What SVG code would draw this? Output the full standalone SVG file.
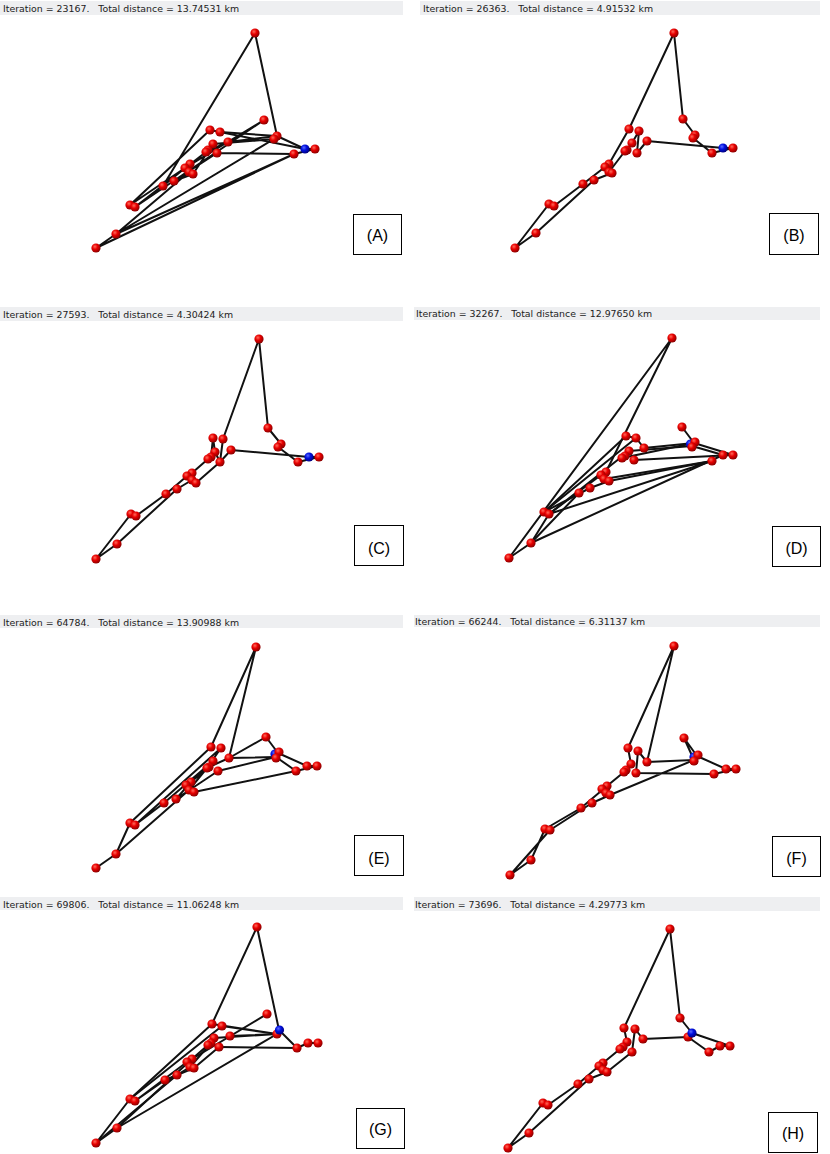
<svg xmlns="http://www.w3.org/2000/svg" width="830" height="1154" viewBox="0 0 830 1154">
<defs>
<radialGradient id="gr" cx="0.38" cy="0.35" r="0.65">
<stop offset="0" stop-color="#ff6a5a"/><stop offset="0.45" stop-color="#e80000"/><stop offset="1" stop-color="#8c0000"/>
</radialGradient>
<radialGradient id="gb" cx="0.38" cy="0.35" r="0.65">
<stop offset="0" stop-color="#5a6aff"/><stop offset="0.45" stop-color="#0010e0"/><stop offset="1" stop-color="#000080"/>
</radialGradient>
<style>
.hb{fill:#eeeff1}
.ht{font-family:"DejaVu Sans",Verdana,sans-serif;font-size:9.4px;fill:#222;white-space:pre}
.tour{fill:none;stroke:#111;stroke-width:2;stroke-linejoin:round;stroke-linecap:round}
.r circle{fill:url(#gr)}
.b{fill:url(#gb)}
.lb{fill:#fff;stroke:#000;stroke-width:1}
.lt{font-family:"Liberation Sans",Arial,sans-serif;font-size:16px;fill:#000;text-anchor:middle}
</style>
</defs>
<rect width="830" height="1154" fill="#fff"/>

<!-- Panel A -->
<g id="panelA">
<rect class="hb" x="0" y="1" width="403" height="14"/>
<text class="ht" x="3" y="11.5" xml:space="preserve">Iteration = 23167.   Total distance = 13.74531 km</text>
<g id="edgesA"><polyline class="tour" points="255,33 277,136 228,142 206,152 135,207 264,120 185,168 130,205 210,130 220,132 305,149 315,149 294,154 96,248 116,234 274,139 213,144 193,174 174,181 217,153 294,154 116,234 189,172 190,164 163,186 255,33"/>
<polyline class="tour" points="220,132 277,136 305,149"/></g>
<g id="dotsA" class="r">
<circle cx="255" cy="33" r="4.6"/><circle cx="264" cy="120" r="4.6"/><circle cx="210" cy="130" r="4.6"/><circle cx="220" cy="132" r="4.6"/><circle cx="277" cy="136" r="4.6"/><circle cx="274" cy="139" r="4.6"/><circle cx="228" cy="142" r="4.6"/><circle cx="213" cy="144" r="4.6"/><circle cx="208" cy="150" r="4.6"/><circle cx="206" cy="152" r="4.6"/><circle cx="217" cy="153" r="4.6"/><circle cx="315" cy="149" r="4.6"/><circle cx="294" cy="154" r="4.6"/><circle cx="190" cy="164" r="4.6"/><circle cx="185" cy="168" r="4.6"/><circle cx="189" cy="172" r="4.6"/><circle cx="193" cy="174" r="4.6"/><circle cx="174" cy="181" r="4.6"/><circle cx="163" cy="186" r="4.6"/><circle cx="130" cy="205" r="4.6"/><circle cx="135" cy="207" r="4.6"/><circle cx="116" cy="234" r="4.6"/><circle cx="96" cy="248" r="4.6"/>
</g>
<circle class="b" cx="305" cy="149" r="4.6"/>
<rect class="lb" x="353.5" y="214.5" width="48" height="40"/>
<text class="lt" x="377.5" y="241">(A)</text>
</g>

<!-- Panel B -->
<g id="panelB">
<rect class="hb" x="420" y="1" width="400" height="14"/>
<text class="ht" x="423" y="11.5" xml:space="preserve">Iteration = 26363.   Total distance = 4.91532 km</text>
<g id="edgesB"><polyline class="tour" points="674,33 683,119 695,135 693,138 712,153 733,148 723,148 647,141 637,153 639,131 632,143 627,150 625,151 609,172 612,173 594,180 536,233 515,248 549,204 554,206 583,184 605,167 609,164 629,129 674,33"/></g>
<g id="dotsB" class="r">
<circle cx="674" cy="33" r="4.6"/><circle cx="683" cy="119" r="4.6"/><circle cx="629" cy="129" r="4.6"/><circle cx="639" cy="131" r="4.6"/><circle cx="647" cy="141" r="4.6"/><circle cx="632" cy="143" r="4.6"/><circle cx="627" cy="150" r="4.6"/><circle cx="625" cy="151" r="4.6"/><circle cx="637" cy="153" r="4.6"/><circle cx="695" cy="135" r="4.6"/><circle cx="693" cy="138" r="4.6"/><circle cx="733" cy="148" r="4.6"/><circle cx="712" cy="153" r="4.6"/><circle cx="609" cy="164" r="4.6"/><circle cx="605" cy="167" r="4.6"/><circle cx="609" cy="172" r="4.6"/><circle cx="612" cy="173" r="4.6"/><circle cx="594" cy="180" r="4.6"/><circle cx="583" cy="184" r="4.6"/><circle cx="549" cy="204" r="4.6"/><circle cx="554" cy="206" r="4.6"/><circle cx="536" cy="233" r="4.6"/><circle cx="515" cy="248" r="4.6"/>
</g>
<circle class="b" cx="723" cy="148" r="4.6"/>
<rect class="lb" x="769.5" y="213.5" width="49" height="41"/>
<text class="lt" x="794" y="241">(B)</text>
</g>

<!-- Panel C -->
<g id="panelC">
<rect class="hb" x="0" y="307" width="403" height="14"/>
<text class="ht" x="3" y="317.5" xml:space="preserve">Iteration = 27593.   Total distance = 4.30424 km</text>
<g id="edgesC"><polyline class="tour" points="259,339 268,428 281,444 278,447 298,462 319,457 309,457 231,450 220,462 196,483 192,480 177,489 117,544 96,559 131,514 136,516 166,494 187,476 192,473 208,459 211,457 213,438 215,452 220,462 223,439 259,339"/></g>
<g id="dotsC" class="r">
<circle cx="259" cy="339" r="4.6"/><circle cx="268" cy="428" r="4.6"/><circle cx="213" cy="438" r="4.6"/><circle cx="223" cy="439" r="4.6"/><circle cx="231" cy="450" r="4.6"/><circle cx="215" cy="452" r="4.6"/><circle cx="211" cy="457" r="4.6"/><circle cx="208" cy="459" r="4.6"/><circle cx="220" cy="462" r="4.6"/><circle cx="281" cy="444" r="4.6"/><circle cx="278" cy="447" r="4.6"/><circle cx="319" cy="457" r="4.6"/><circle cx="298" cy="462" r="4.6"/><circle cx="192" cy="473" r="4.6"/><circle cx="187" cy="476" r="4.6"/><circle cx="192" cy="480" r="4.6"/><circle cx="196" cy="483" r="4.6"/><circle cx="177" cy="489" r="4.6"/><circle cx="166" cy="494" r="4.6"/><circle cx="131" cy="514" r="4.6"/><circle cx="136" cy="516" r="4.6"/><circle cx="117" cy="544" r="4.6"/><circle cx="96" cy="559" r="4.6"/>
</g>
<circle class="b" cx="309" cy="457" r="4.6"/>
<rect class="lb" x="354.5" y="525.5" width="49" height="40"/>
<text class="lt" x="379" y="554">(C)</text>
</g>

<!-- Panel D -->
<g id="panelD">
<rect class="hb" x="414" y="307" width="406" height="13"/>
<text class="ht" x="416" y="317" xml:space="preserve">Iteration = 32267.   Total distance = 12.97650 km</text>
<g id="edgesD">
<polyline class="tour" points="509,558 672,338 606,472"/>
<polyline class="tour" points="544,512 626,436 636,438 644,448 694,443 682,427"/>
<polyline class="tour" points="694,443 733,455 723,455 692,446 629,451 549,514 712,461 609,481 590,488 544,512"/>
<polyline class="tour" points="634,460 733,455"/>
<polyline class="tour" points="509,558 531,543 549,514"/>
<polyline class="tour" points="531,543 723,455"/>
<polyline class="tour" points="622,458 694,443"/>
<polyline class="tour" points="604,479 712,461"/>
<polyline class="tour" points="579,493 531,543"/>
<polyline class="tour" points="636,438 544,512"/>
<polyline class="tour" points="601,475 549,514"/>
</g>
<circle class="b" cx="690.5" cy="444" r="4.6"/>
<g id="dotsD" class="r">
<circle cx="672" cy="338" r="4.6"/><circle cx="682" cy="427" r="4.6"/><circle cx="626" cy="436" r="4.6"/><circle cx="636" cy="438" r="4.6"/><circle cx="644" cy="448" r="4.6"/><circle cx="629" cy="451" r="4.6"/><circle cx="625" cy="456" r="4.6"/><circle cx="622" cy="458" r="4.6"/><circle cx="634" cy="460" r="4.6"/><circle cx="695" cy="442" r="4.6"/><circle cx="692" cy="447" r="4.6"/><circle cx="723" cy="455" r="4.6"/><circle cx="733" cy="455" r="4.6"/><circle cx="712" cy="461" r="4.6"/><circle cx="606" cy="472" r="4.6"/><circle cx="601" cy="475" r="4.6"/><circle cx="604" cy="479" r="4.6"/><circle cx="609" cy="481" r="4.6"/><circle cx="590" cy="488" r="4.6"/><circle cx="579" cy="493" r="4.6"/><circle cx="544" cy="512" r="4.6"/><circle cx="549" cy="514" r="4.6"/><circle cx="531" cy="543" r="4.6"/><circle cx="509" cy="558" r="4.6"/>
</g>
<rect class="lb" x="772.5" y="526.5" width="48" height="40"/>
<text class="lt" x="796.5" y="554">(D)</text>
</g>

<!-- Panel E -->
<g id="panelE">
<rect class="hb" x="0" y="615" width="403" height="13"/>
<text class="ht" x="3" y="625.5" xml:space="preserve">Iteration = 64784.   Total distance = 13.90988 km</text>
<g id="edgesE"><polyline class="tour" points="256,647 211,747 130,823 116,854 96,868 116,854 189,790 207,768 221,748 135,825 164,803 213,761 186,785 194,792 296,771 317,766 307,766 278,753 266,737 229,758 276,757 218,771 176,799 191,782 209,767 229,758 256,647"/>
<polyline class="tour" points="276,757 296,771"/></g>
<circle class="b" cx="275" cy="754" r="4.6"/>
<g id="dotsE" class="r">
<circle cx="256" cy="647" r="4.6"/><circle cx="266" cy="737" r="4.6"/><circle cx="211" cy="747" r="4.6"/><circle cx="221" cy="748" r="4.6"/><circle cx="229" cy="758" r="4.6"/><circle cx="213" cy="761" r="4.6"/><circle cx="209" cy="767" r="4.6"/><circle cx="207" cy="768" r="4.6"/><circle cx="218" cy="771" r="4.6"/><circle cx="279" cy="752" r="4.6"/><circle cx="276" cy="758" r="4.6"/><circle cx="307" cy="766" r="4.6"/><circle cx="317" cy="766" r="4.6"/><circle cx="296" cy="771" r="4.6"/><circle cx="191" cy="782" r="4.6"/><circle cx="186" cy="785" r="4.6"/><circle cx="189" cy="790" r="4.6"/><circle cx="194" cy="792" r="4.6"/><circle cx="176" cy="799" r="4.6"/><circle cx="164" cy="803" r="4.6"/><circle cx="130" cy="823" r="4.6"/><circle cx="135" cy="825" r="4.6"/><circle cx="116" cy="854" r="4.6"/><circle cx="96" cy="868" r="4.6"/>
</g>
<rect class="lb" x="354.5" y="835.5" width="49" height="40"/>
<text class="lt" x="379" y="864">(E)</text>
</g>

<!-- Panel F -->
<g id="panelF">
<rect class="hb" x="414" y="615" width="406" height="12"/>
<text class="ht" x="415" y="624.5" xml:space="preserve">Iteration = 66244.   Total distance = 6.31137 km</text>
<g id="edgesF"><polyline class="tour" points="674,646 628,748 631,764 626,770 624,772 607,786 581,808 545,829 531,860 510,875 550,830 592,803 610,795 694,760 684,738 697,756 726,769 736,769 714,774 636,773 638,751 647,762 674,646"/>
<polyline class="tour" points="647,762 694,760"/></g>
<circle class="b" cx="694" cy="757" r="4.6"/>
<g id="dotsF" class="r">
<circle cx="674" cy="646" r="4.6"/><circle cx="684" cy="738" r="4.6"/><circle cx="628" cy="748" r="4.6"/><circle cx="638" cy="751" r="4.6"/><circle cx="647" cy="762" r="4.6"/><circle cx="631" cy="764" r="4.6"/><circle cx="626" cy="770" r="4.6"/><circle cx="624" cy="772" r="4.6"/><circle cx="636" cy="773" r="4.6"/><circle cx="698" cy="755" r="4.6"/><circle cx="694" cy="761" r="4.6"/><circle cx="726" cy="769" r="4.6"/><circle cx="736" cy="769" r="4.6"/><circle cx="714" cy="774" r="4.6"/><circle cx="607" cy="786" r="4.6"/><circle cx="602" cy="789" r="4.6"/><circle cx="606" cy="793" r="4.6"/><circle cx="610" cy="795" r="4.6"/><circle cx="592" cy="803" r="4.6"/><circle cx="581" cy="808" r="4.6"/><circle cx="545" cy="829" r="4.6"/><circle cx="550" cy="830" r="4.6"/><circle cx="531" cy="860" r="4.6"/><circle cx="510" cy="875" r="4.6"/>
</g>
<rect class="lb" x="772.5" y="836.5" width="48" height="40"/>
<text class="lt" x="796.5" y="864">(F)</text>
</g>

<!-- Panel G -->
<g id="panelG">
<rect class="hb" x="0" y="897" width="403" height="13"/>
<text class="ht" x="3" y="907.5" xml:space="preserve">Iteration = 69806.   Total distance = 11.06248 km</text>
<g id="edgesG">
<polyline class="tour" points="257,927 279,1030 297,1048 308,1043 318,1043"/>
<polyline class="tour" points="212,1024 277,1034 222,1026"/>
<polyline class="tour" points="230,1036 277,1034 214,1038"/>
<polyline class="tour" points="219,1047 297,1048"/>
<polyline class="tour" points="257,927 212,1024 130,1099 96,1143 117,1128 277,1034"/>
<polyline class="tour" points="267,1014 187,1062 135,1101 165,1080 194,1068 219,1047"/>
<polyline class="tour" points="222,1026 130,1099"/>
<polyline class="tour" points="96,1143 177,1075 190,1067 211,1043"/>
<polyline class="tour" points="117,1128 192,1059 208,1045"/>
</g>
<g id="dotsG" class="r">
<circle cx="257" cy="927" r="4.6"/><circle cx="267" cy="1014" r="4.6"/><circle cx="212" cy="1024" r="4.6"/><circle cx="222" cy="1026" r="4.6"/><circle cx="230" cy="1036" r="4.6"/><circle cx="214" cy="1038" r="4.6"/><circle cx="211" cy="1043" r="4.6"/><circle cx="208" cy="1045" r="4.6"/><circle cx="219" cy="1047" r="4.6"/><circle cx="277" cy="1034" r="4.6"/><circle cx="308" cy="1043" r="4.6"/><circle cx="318" cy="1043" r="4.6"/><circle cx="297" cy="1048" r="4.6"/><circle cx="192" cy="1059" r="4.6"/><circle cx="187" cy="1062" r="4.6"/><circle cx="190" cy="1067" r="4.6"/><circle cx="194" cy="1068" r="4.6"/><circle cx="177" cy="1075" r="4.6"/><circle cx="165" cy="1080" r="4.6"/><circle cx="130" cy="1099" r="4.6"/><circle cx="135" cy="1101" r="4.6"/><circle cx="117" cy="1128" r="4.6"/><circle cx="96" cy="1143" r="4.6"/>
</g>
<circle class="b" cx="279.5" cy="1030" r="4.6"/>
<rect class="lb" x="356.5" y="1108.5" width="48" height="40"/>
<text class="lt" x="380.5" y="1135">(G)</text>
</g>

<!-- Panel H -->
<g id="panelH">
<rect class="hb" x="414" y="897" width="406" height="14"/>
<text class="ht" x="415" y="908" xml:space="preserve">Iteration = 73696.   Total distance = 4.29773 km</text>
<g id="edgesH"><polyline class="tour" points="670,929 680,1018 692,1033 730,1046 720,1046 709,1052 688,1037 643,1039 635,1029 632,1052 607,1072 589,1079 529,1133 508,1148 543,1103 548,1105 578,1084 599,1066 603,1063 620,1049 623,1047 627,1042 624,1028 670,929"/></g>
<g id="dotsH" class="r">
<circle cx="670" cy="929" r="4.6"/><circle cx="680" cy="1018" r="4.6"/><circle cx="624" cy="1028" r="4.6"/><circle cx="635" cy="1029" r="4.6"/><circle cx="643" cy="1039" r="4.6"/><circle cx="627" cy="1042" r="4.6"/><circle cx="623" cy="1047" r="4.6"/><circle cx="620" cy="1049" r="4.6"/><circle cx="632" cy="1052" r="4.6"/><circle cx="688" cy="1037" r="4.6"/><circle cx="720" cy="1046" r="4.6"/><circle cx="730" cy="1046" r="4.6"/><circle cx="709" cy="1052" r="4.6"/><circle cx="603" cy="1063" r="4.6"/><circle cx="599" cy="1066" r="4.6"/><circle cx="603" cy="1070" r="4.6"/><circle cx="607" cy="1072" r="4.6"/><circle cx="589" cy="1079" r="4.6"/><circle cx="578" cy="1084" r="4.6"/><circle cx="543" cy="1103" r="4.6"/><circle cx="548" cy="1105" r="4.6"/><circle cx="529" cy="1133" r="4.6"/><circle cx="508" cy="1148" r="4.6"/>
</g>
<circle class="b" cx="692" cy="1033" r="4.6"/>
<rect class="lb" x="768.5" y="1112.5" width="49" height="40"/>
<text class="lt" x="793" y="1139">(H)</text>
</g>
</svg>
